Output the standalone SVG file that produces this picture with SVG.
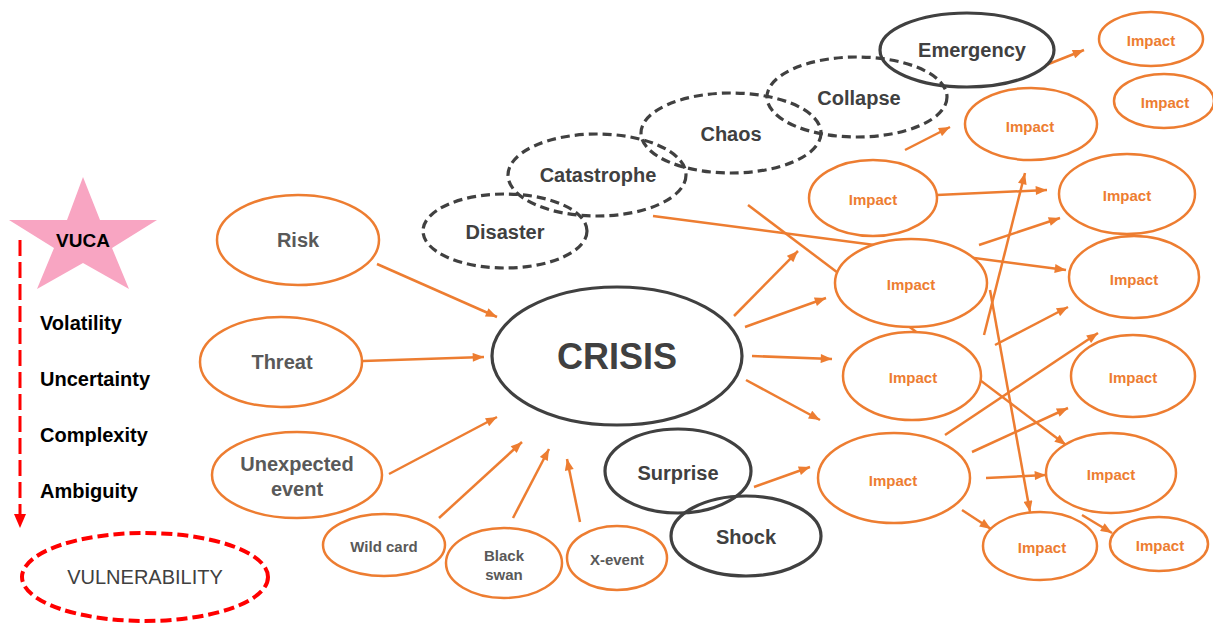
<svg xmlns="http://www.w3.org/2000/svg" width="1213" height="624" viewBox="0 0 1213 624">
<defs>
<marker id="arr" viewBox="0 0 10 8" refX="10" refY="4" markerWidth="5" markerHeight="3.6" orient="auto" markerUnits="strokeWidth">
<path d="M0,0 L10,4 L0,8 Z" fill="#ED7D31"/>
</marker>
<style>
text{font-family:"Liberation Sans",Arial,sans-serif;font-weight:bold;text-anchor:middle;dominant-baseline:central}
.o{fill:#fff;stroke:#ED7D31;stroke-width:2.5}
.d{fill:none;stroke:#404040;stroke-width:3.2}
.dd{fill:none;stroke:#404040;stroke-width:3.2;stroke-dasharray:9 5}
.g{fill:#595959;font-size:20px}
.gs{fill:#595959;font-size:15px}
.k{fill:#404040;font-size:20px}
.imp{fill:#ED7D31;font-size:15px}
.v{fill:#000;font-size:20px;text-anchor:start}
.c line{stroke:#ED7D31;stroke-width:2.5;marker-end:url(#arr)}
</style>
</defs>
<rect width="1213" height="624" fill="#fff"/>

<g id="connectors" class="c">
<line x1="377" y1="264" x2="497" y2="317"/>
<line x1="363" y1="361" x2="484" y2="357"/>
<line x1="389" y1="474" x2="497" y2="417"/>
<line x1="439" y1="518" x2="522" y2="442"/>
<line x1="513" y1="518" x2="549" y2="449"/>
<line x1="580" y1="522" x2="567" y2="459"/>
<line x1="734" y1="316" x2="798" y2="251"/>
<line x1="745" y1="327" x2="826" y2="298"/>
<line x1="752" y1="356" x2="832" y2="359"/>
<line x1="746" y1="380" x2="820" y2="420"/>
<line x1="754" y1="487" x2="810" y2="467"/>
<line x1="653" y1="216" x2="1066" y2="270"/>
<line x1="748" y1="205" x2="1066" y2="445"/>
<line x1="937" y1="195" x2="1047" y2="190"/>
<line x1="905" y1="150" x2="950" y2="127"/>
<line x1="1046" y1="65" x2="1084" y2="50"/>
<line x1="984" y1="335" x2="1025" y2="173"/>
<line x1="979" y1="245" x2="1060" y2="218"/>
<line x1="990" y1="290" x2="1030" y2="512"/>
<line x1="995" y1="345" x2="1068" y2="307"/>
<line x1="945" y1="435" x2="1098" y2="333"/>
<line x1="972" y1="452" x2="1068" y2="408"/>
<line x1="986" y1="478" x2="1046" y2="475"/>
<line x1="962" y1="510" x2="991" y2="529"/>
<line x1="1082" y1="515" x2="1112" y2="533"/>
</g>

<g id="vuca">
<polygon points="83,177 100,220 157,220 112,248 129,289 83,263 37,289 54,248 9,220 67,220" fill="#F8A5C2"/>
<text x="83" y="240" style="fill:#000;font-size:19px">VUCA</text>
</g>
<g id="vuca-list">
<text class="v" x="40" y="323">Volatility</text>
<text class="v" x="40" y="379">Uncertainty</text>
<text class="v" x="40" y="435">Complexity</text>
<text class="v" x="40" y="491">Ambiguity</text>
<path d="M20,240 V516" stroke="#FF0000" stroke-width="3" stroke-dasharray="16 6" fill="none"/>
<polygon points="20,528 14,514 26,514" fill="#FF0000"/>
</g>
<g id="vulnerability">
<ellipse cx="145" cy="577" rx="123" ry="44" fill="none" stroke="#FF0000" stroke-width="4" stroke-dasharray="11 5"/>
<text x="145" y="577" style="fill:#404040;font-size:20px;font-weight:normal">VULNERABILITY</text>
</g>

<g id="risk"><ellipse class="o" cx="298" cy="240" rx="81" ry="45"/><text class="g" x="298" y="240">Risk</text></g>
<g id="threat"><ellipse class="o" cx="281" cy="362" rx="81" ry="45"/><text class="g" x="282" y="362">Threat</text></g>
<g id="unexpected"><ellipse class="o" cx="297" cy="475" rx="85" ry="43"/><text class="g" x="297" y="464">Unexpected</text><text class="g" x="297" y="489">event</text></g>
<g id="wildcard"><ellipse class="o" cx="384" cy="545" rx="61" ry="31"/><text class="gs" x="384" y="546">Wild card</text></g>
<g id="blackswan"><ellipse class="o" cx="504" cy="563" rx="58" ry="35"/><text class="gs" x="504" y="555">Black</text><text class="gs" x="504" y="574">swan</text></g>
<g id="xevent"><ellipse class="o" cx="617" cy="558" rx="50" ry="32"/><text class="gs" x="617" y="559">X-event</text></g>

<g id="crisis"><ellipse class="d" cx="617" cy="356" rx="125" ry="69"/><text x="617" y="356" style="fill:#404040;font-size:36px">CRISIS</text></g>
<g id="disaster"><ellipse class="dd" cx="505" cy="231" rx="82" ry="37"/><text class="k" x="505" y="232">Disaster</text></g>
<g id="catastrophe"><ellipse class="dd" cx="597" cy="175" rx="89" ry="41"/><text class="k" x="598" y="175">Catastrophe</text></g>
<g id="chaos"><ellipse class="dd" cx="731" cy="133" rx="90" ry="40"/><text class="k" x="731" y="134">Chaos</text></g>
<g id="collapse"><ellipse class="dd" cx="857" cy="97" rx="90" ry="40"/><text class="k" x="859" y="98">Collapse</text></g>
<g id="emergency"><ellipse class="d" cx="967" cy="50" rx="87" ry="37"/><text class="k" x="972" y="50">Emergency</text></g>
<g id="surprise"><ellipse class="d" cx="678" cy="471" rx="73" ry="42"/><text class="k" x="678" y="473">Surprise</text></g>
<g id="shock"><ellipse class="d" cx="746" cy="536" rx="75" ry="40"/><text class="k" x="746" y="537">Shock</text></g>

<g id="impact1"><ellipse class="o" cx="1151" cy="39" rx="52" ry="27"/><text class="imp" x="1151" y="40">Impact</text></g>
<g id="impact2"><ellipse class="o" cx="1164" cy="101" rx="50" ry="27"/><text class="imp" x="1165" y="102">Impact</text></g>
<g id="impact3"><ellipse class="o" cx="1031" cy="124" rx="66" ry="36"/><text class="imp" x="1030" y="126">Impact</text></g>
<g id="impact4"><ellipse class="o" style="fill:none" cx="873" cy="198" rx="64" ry="38"/><text class="imp" x="873" y="199">Impact</text></g>
<g id="impact5"><ellipse class="o" cx="1127" cy="194" rx="68" ry="40"/><text class="imp" x="1127" y="195">Impact</text></g>
<g id="impact6"><ellipse class="o" cx="911" cy="283" rx="76" ry="44"/><text class="imp" x="911" y="284">Impact</text></g>
<g id="impact7"><ellipse class="o" cx="1134" cy="277" rx="65" ry="41"/><text class="imp" x="1134" y="279">Impact</text></g>
<g id="impact8"><ellipse class="o" cx="912" cy="376" rx="69" ry="44"/><text class="imp" x="913" y="377">Impact</text></g>
<g id="impact9"><ellipse class="o" cx="1133" cy="376" rx="62" ry="41"/><text class="imp" x="1133" y="377">Impact</text></g>
<g id="impact10"><ellipse class="o" cx="894" cy="478" rx="76" ry="45"/><text class="imp" x="893" y="480">Impact</text></g>
<g id="impact11"><ellipse class="o" cx="1111" cy="473" rx="65" ry="40"/><text class="imp" x="1111" y="474">Impact</text></g>
<g id="impact12"><ellipse class="o" cx="1040" cy="546" rx="57" ry="34"/><text class="imp" x="1042" y="547">Impact</text></g>
<g id="impact13"><ellipse class="o" cx="1159" cy="544" rx="49" ry="27"/><text class="imp" x="1160" y="545">Impact</text></g>
</svg>
